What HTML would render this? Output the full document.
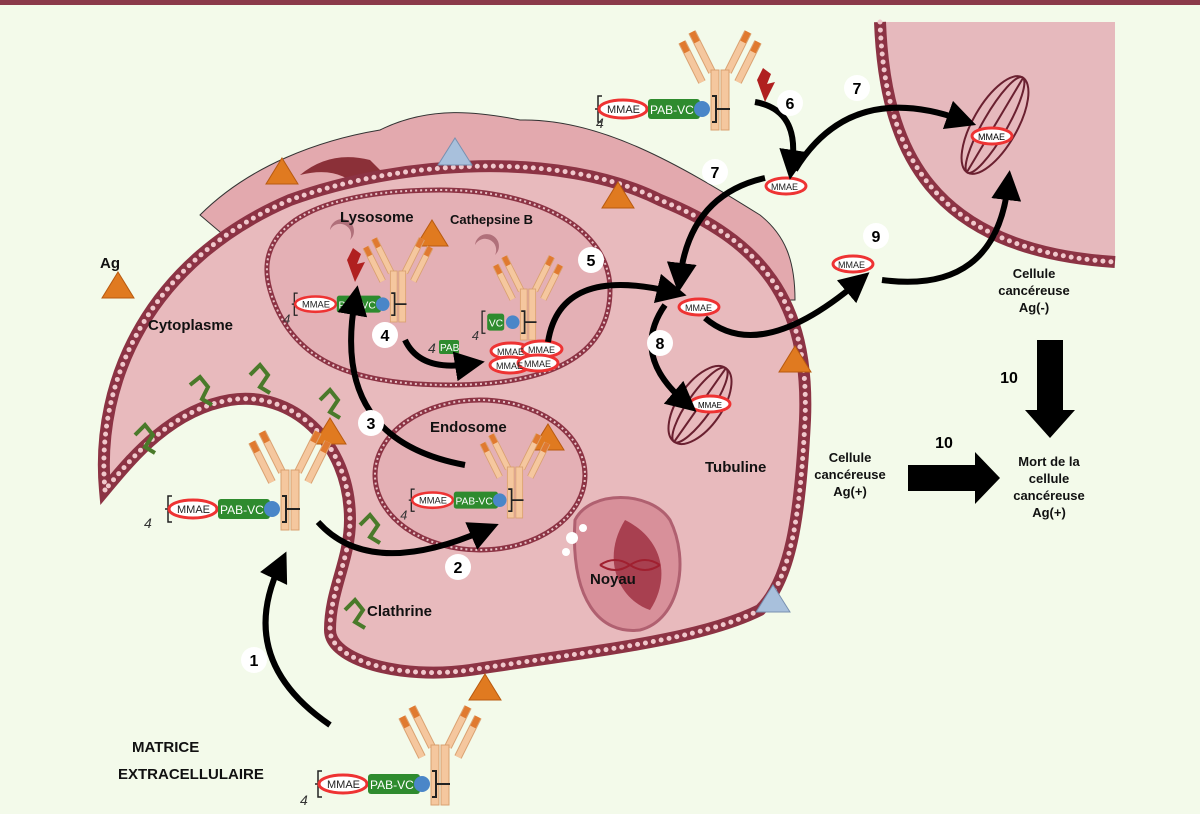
<!DOCTYPE html>
<html><head><meta charset="utf-8"><style>
html,body{margin:0;padding:0;background:#f3faea;}
svg{display:block;}
text{font-family:"Liberation Sans",sans-serif;}
.b{font-weight:bold;fill:#111;}
</style></head><body>
<svg width="1200" height="814" viewBox="0 0 1200 814" xmlns="http://www.w3.org/2000/svg">
<defs>
<marker id="ah" markerWidth="5" markerHeight="5" refX="2.5" refY="2.5" orient="auto" markerUnits="strokeWidth">
<path d="M0,0 L5,2.5 L0,5 Z" fill="#000"/></marker>
<g id="ab">
<line x1="-18" y1="-48" x2="-38" y2="-88" stroke="#d9a070" stroke-width="8"/>
<line x1="-18" y1="-48" x2="-38" y2="-88" stroke="#f5c79e" stroke-width="6"/>
<line x1="-8" y1="-58" x2="-28" y2="-98" stroke="#d9a070" stroke-width="8"/>
<line x1="-8" y1="-58" x2="-28" y2="-98" stroke="#f5c79e" stroke-width="6"/>
<line x1="18" y1="-48" x2="38" y2="-88" stroke="#d9a070" stroke-width="8"/>
<line x1="18" y1="-48" x2="38" y2="-88" stroke="#f5c79e" stroke-width="6"/>
<line x1="8" y1="-58" x2="28" y2="-98" stroke="#d9a070" stroke-width="8"/>
<line x1="8" y1="-58" x2="28" y2="-98" stroke="#f5c79e" stroke-width="6"/>
<line x1="-33" y1="-78" x2="-38" y2="-88" stroke="#e07a30" stroke-width="6"/>
<line x1="-23" y1="-88" x2="-28" y2="-98" stroke="#e07a30" stroke-width="6"/>
<line x1="33" y1="-78" x2="38" y2="-88" stroke="#e07a30" stroke-width="6"/>
<line x1="23" y1="-88" x2="28" y2="-98" stroke="#e07a30" stroke-width="6"/>
<rect x="-9" y="-60" width="8" height="60" fill="#f5c79e" stroke="#d9a070"/>
<rect x="1" y="-60" width="8" height="60" fill="#f5c79e" stroke="#d9a070"/>
</g>
<g id="lk">
<path d="M-118,-34 h-4 v26 h4 M-125,-21 h3" stroke="#222" fill="none" stroke-width="1.5"/>
<ellipse cx="-97" cy="-21" rx="24" ry="9" fill="#fff" stroke="#e33" stroke-width="3"/>
<rect x="-72" y="-31" width="52" height="20" rx="3" fill="#2e8b2e"/>
<circle cx="-18" cy="-21" r="8" fill="#4a86c8"/>
<path d="M-8,-34 h4 v26 h-4 M-4,-21 h14" stroke="#222" fill="none" stroke-width="2"/>
</g>
<g id="mm"><ellipse cx="0" cy="0" rx="20" ry="8" fill="#fff" stroke="#e33" stroke-width="3"/></g>
<g id="tri"><path d="M0,-14 L16,12 L-16,12 Z" fill="#e07a20" stroke="#b85a10"/></g>
</defs>
<rect x="0" y="0" width="1200" height="5" fill="#8b3a4a"/>

<!-- right cell -->
<path d="M880,22 C885,150 930,250 1115,262 L1115,22 Z" fill="#e6b9bd"/>
<path d="M880,22 C885,150 930,250 1115,262" fill="none" stroke="#8c3344" stroke-width="12"/>
<path d="M880,22 C885,150 930,250 1115,262" fill="none" stroke="#f0c8cc" stroke-width="5" stroke-dasharray="0 8" stroke-linecap="round"/>

<!-- upper fold -->
<path d="M200,215 C250,165 320,140 380,130 C430,105 480,112 520,120 C600,118 680,165 760,215 C785,235 795,260 795,300 L300,300 Z" fill="#e3a9ae" stroke="#333" stroke-width="1"/>
<path d="M370,160 Q330,150 300,175 Q340,165 360,190 Q330,200 320,215 Q380,190 380,170 Z" fill="#8b3038"/>
<path d="M650,195 Q700,205 720,240 Q690,220 640,210 Z" fill="#8b3038"/>
<!-- main cell -->
<path d="M105,490 C95,380 150,260 290,200 C400,160 560,150 660,200 C760,240 810,300 805,420 C800,520 790,580 760,610 C700,640 600,650 470,670 C400,680 330,660 330,630 C330,590 350,560 350,520 C350,440 290,390 230,400 C170,410 130,460 105,490 Z" fill="#e8babd"/>
<path d="M105,490 C95,380 150,260 290,200 C400,160 560,150 660,200 C760,240 810,300 805,420 C800,520 790,580 760,610 C700,640 600,650 470,670 C400,680 330,660 330,630 C330,590 350,560 350,520 C350,440 290,390 230,400 C170,410 130,460 105,490 Z" fill="none" stroke="#8c3344" stroke-width="12"/>
<path d="M105,490 C95,380 150,260 290,200 C400,160 560,150 660,200 C760,240 810,300 805,420 C800,520 790,580 760,610 C700,640 600,650 470,670 C400,680 330,660 330,630 C330,590 350,560 350,520 C350,440 290,390 230,400 C170,410 130,460 105,490 Z" fill="none" stroke="#f0c8cc" stroke-width="5" stroke-dasharray="0 8" stroke-linecap="round"/>

<!-- lysosome -->
<path d="M270,290 C250,220 330,190 440,190 C540,190 610,230 610,290 C610,350 560,385 450,385 C350,385 290,360 270,290 Z" fill="#e4b0b5" stroke="#8c3344" stroke-width="5"/>
<path d="M270,290 C250,220 330,190 440,190 C540,190 610,230 610,290 C610,350 560,385 450,385 C350,385 290,360 270,290 Z" fill="none" stroke="#e8c4c8" stroke-width="2" stroke-dasharray="2 3"/>
<!-- endosome -->
<ellipse cx="480" cy="475" rx="105" ry="75" fill="#e4b0b5" stroke="#8c3344" stroke-width="5"/>
<ellipse cx="480" cy="475" rx="105" ry="75" fill="none" stroke="#e8c4c8" stroke-width="2" stroke-dasharray="2 3"/>

<!-- nucleus -->
<path d="M575,520 C590,490 650,490 670,520 C690,560 680,620 640,630 C600,635 570,600 575,520 Z" fill="#d8909a" stroke="#b06070" stroke-width="3"/>
<path d="M625,520 C600,560 620,600 650,610 C670,580 665,540 625,520 Z" fill="#a84050"/>
<circle cx="572" cy="538" r="6" fill="#fff"/><circle cx="583" cy="528" r="4" fill="#fff"/><circle cx="566" cy="552" r="4" fill="#fff"/>
<path d="M600,565 Q615,555 630,565 Q645,575 660,565" stroke="#a02030" stroke-width="2" fill="none"/>
<path d="M600,565 Q615,575 630,565 Q645,555 660,565" stroke="#a02030" stroke-width="2" fill="none"/>

<!-- cathepsin -->
<path d="M330,230 a12,12 0 1,1 20,10 a8,8 0 1,0 -20,-10 Z" fill="#b0707a"/>
<path d="M475,245 a12,12 0 1,1 20,10 a8,8 0 1,0 -20,-10 Z" fill="#b0707a"/>

<!-- clathrine -->
<g stroke="#4a7a2a" stroke-width="4" fill="none">
<path d="M135,435 l10,-10 l8,10 l-8,12 l10,6"/>
<path d="M190,385 l10,-8 l8,10 l-6,12 l10,6"/>
<path d="M250,375 l10,-10 l8,10 l-8,12 l10,6"/>
<path d="M320,400 l10,-10 l8,10 l-8,12 l10,6"/>
<path d="M360,525 l10,-10 l8,10 l-8,12 l10,6"/>
<path d="M345,610 l10,-10 l8,10 l-8,12 l10,6"/>
</g>

<!-- antigens -->
<use href="#tri" x="282" y="172"/>
<use href="#tri" x="618" y="196"/>
<use href="#tri" x="118" y="286"/>
<use href="#tri" x="795" y="360"/>
<use href="#tri" x="485" y="688"/>
<use href="#tri" x="330" y="432"/>
<use href="#tri" x="548" y="438"/>
<use href="#tri" x="432" y="234"/>
<path d="M455,138 L472,165 L438,165 Z" fill="#a8c0dc" stroke="#7890b0"/>
<path d="M773,585 L790,612 L756,612 Z" fill="#a8c0dc" stroke="#7890b0"/>

<!-- antibodies with linkers -->
<g transform="translate(290,530)"><use href="#ab"/><use href="#lk"/>
<text x="-113" y="-17" font-size="11" fill="#222">MMAE</text><text x="-70" y="-16" font-size="12" fill="#fff">PAB-VC</text>
<text x="-146" y="-2" font-size="14" font-style="italic" fill="#333">4</text></g>
<g transform="translate(440,805)"><use href="#ab"/><use href="#lk"/>
<text x="-113" y="-17" font-size="11" fill="#222">MMAE</text><text x="-70" y="-16" font-size="12" fill="#fff">PAB-VC</text>
<text x="-140" y="0" font-size="14" font-style="italic" fill="#333">4</text></g>
<g transform="translate(720,130)"><use href="#ab"/><use href="#lk"/>
<text x="-113" y="-17" font-size="11" fill="#222">MMAE</text><text x="-70" y="-16" font-size="12" fill="#fff">PAB-VC</text>
<text x="-124" y="-2" font-size="14" font-style="italic" fill="#333">4</text></g>
<g transform="translate(515,518) scale(0.85)"><use href="#ab"/><use href="#lk"/>
<text x="-113" y="-17" font-size="11" fill="#222">MMAE</text><text x="-70" y="-16" font-size="12" fill="#fff">PAB-VC</text>
<text x="-135" y="2" font-size="15" font-style="italic" fill="#333">4</text></g>
<g transform="translate(398,322) scale(0.85)"><use href="#ab"/><use href="#lk"/>
<text x="-113" y="-17" font-size="11" fill="#222">MMAE</text><text x="-70" y="-16" font-size="12" fill="#fff">PAB-VC</text>
<text x="-135" y="2" font-size="15" font-style="italic" fill="#333">4</text></g>
<g transform="translate(528,340) scale(0.85)"><use href="#ab"/>
<path d="M-50,-34 h-4 v26 h4" stroke="#222" fill="none" stroke-width="1.5"/>
<rect x="-48" y="-31" width="20" height="20" rx="3" fill="#2e8b2e"/><circle cx="-18" cy="-21" r="8" fill="#4a86c8"/>
<path d="M-8,-34 h4 v26 h-4 M-4,-21 h14" stroke="#222" fill="none" stroke-width="2"/>
<text x="-46" y="-16" font-size="12" fill="#fff">VC</text>
<text x="-66" y="0" font-size="15" font-style="italic" fill="#333">4</text></g>
<path d="M347,260 l6,-12 l8,6 l-4,10 l8,-2 l-10,20 Z" fill="#b02020"/>
<path d="M757,80 l6,-12 l8,6 l-4,10 l8,-2 l-10,20 Z" fill="#b02020"/>

<text x="428" y="353" font-size="14" font-style="italic" fill="#333">4</text>
<rect x="439" y="340" width="20" height="14" rx="2" fill="#2e8b2e"/><text x="440" y="351" font-size="10" fill="#fff">PAB</text>

<!-- MMAE free -->
<g font-size="9" fill="#222">
<use href="#mm" x="511" y="351"/><use href="#mm" x="542" y="349"/><use href="#mm" x="510" y="365"/><use href="#mm" x="538" y="363"/>
<text x="497" y="355">MMAE</text><text x="528" y="353">MMAE</text><text x="496" y="369">MMAE</text><text x="524" y="367">MMAE</text>
<use href="#mm" x="699" y="307"/><text x="685" y="311">MMAE</text>
<use href="#mm" x="786" y="186"/><text x="771" y="190">MMAE</text>
<use href="#mm" x="853" y="264"/><text x="838" y="268">MMAE</text>
</g>

<!-- tubulin -->
<g stroke="#6a2030" stroke-width="2" fill="none">
<ellipse cx="700" cy="405" rx="22" ry="45" transform="rotate(35 700 405)"/>
<ellipse cx="700" cy="405" rx="12" ry="45" transform="rotate(35 700 405)"/>
<line x1="674" y1="442" x2="726" y2="368"/>
<ellipse cx="995" cy="125" rx="22" ry="55" transform="rotate(30 995 125)"/>
<ellipse cx="995" cy="125" rx="12" ry="55" transform="rotate(30 995 125)"/>
<line x1="967" y1="172" x2="1023" y2="78"/>
</g>
<use href="#mm" x="710" y="404"/><text x="698" y="408" font-size="8">MMAE</text>
<use href="#mm" x="992" y="136"/><text x="978" y="140" font-size="9">MMAE</text>

<!-- arrows -->
<g stroke="#000" stroke-width="6" fill="none" marker-end="url(#ah)">
<path d="M330,725 Q235,660 280,565"/>
<path d="M318,522 Q370,580 485,530"/>
<path d="M465,465 Q330,440 355,300"/>
<path d="M405,340 Q420,372 470,364"/>
<path d="M548,342 Q560,265 672,292"/>
<path d="M765,178 Q690,195 680,278"/>
<path d="M755,102 Q800,110 792,165"/>
<path d="M795,170 Q850,80 962,120"/>
<path d="M665,305 Q630,355 685,402"/>
<path d="M705,318 Q760,365 858,282"/>
<path d="M882,280 Q995,295 1008,185"/>
</g>
<path d="M908,465 L975,465 L975,452 L1000,478 L975,504 L975,491 L908,491 Z" fill="#000"/>
<path d="M1037,340 L1063,340 L1063,410 L1075,410 L1050,438 L1025,410 L1037,410 Z" fill="#000"/>

<!-- number circles -->
<g font-size="16" font-weight="bold" text-anchor="middle">
<circle cx="254" cy="660" r="13" fill="#fff"/><text x="254" y="666">1</text>
<circle cx="458" cy="567" r="13" fill="#fff"/><text x="458" y="573">2</text>
<circle cx="371" cy="423" r="13" fill="#fff"/><text x="371" y="429">3</text>
<circle cx="385" cy="335" r="13" fill="#fff"/><text x="385" y="341">4</text>
<circle cx="591" cy="260" r="13" fill="#fff"/><text x="591" y="266">5</text>
<circle cx="790" cy="103" r="13" fill="#fff"/><text x="790" y="109">6</text>
<circle cx="715" cy="172" r="13" fill="#fff"/><text x="715" y="178">7</text>
<circle cx="857" cy="88" r="13" fill="#fff"/><text x="857" y="94">7</text>
<circle cx="660" cy="343" r="13" fill="#fff"/><text x="660" y="349">8</text>
<circle cx="876" cy="236" r="13" fill="#fff"/><text x="876" y="242">9</text>
<text x="944" y="448">10</text><text x="1009" y="383">10</text>
</g>

<!-- labels -->
<g class="b" font-size="15">
<text x="100" y="268">Ag</text>
<text x="148" y="330">Cytoplasme</text>
<text x="340" y="222">Lysosome</text>
<text x="450" y="224" font-size="13">Cathepsine B</text>
<text x="430" y="432">Endosome</text>
<text x="705" y="472">Tubuline</text>
<text x="590" y="584">Noyau</text>
<text x="367" y="616">Clathrine</text>
<text x="132" y="752">MATRICE</text>
<text x="118" y="779">EXTRACELLULAIRE</text>
</g>
<g class="b" font-size="13" text-anchor="middle">
<text x="850" y="462">Cellule</text><text x="850" y="479">cancéreuse</text><text x="850" y="496">Ag(+)</text>
<text x="1034" y="278">Cellule</text><text x="1034" y="295">cancéreuse</text><text x="1034" y="312">Ag(-)</text>
<text x="1049" y="466">Mort de la</text><text x="1049" y="483">cellule</text><text x="1049" y="500">cancéreuse</text><text x="1049" y="517">Ag(+)</text>
</g>
</svg>
</body></html>
